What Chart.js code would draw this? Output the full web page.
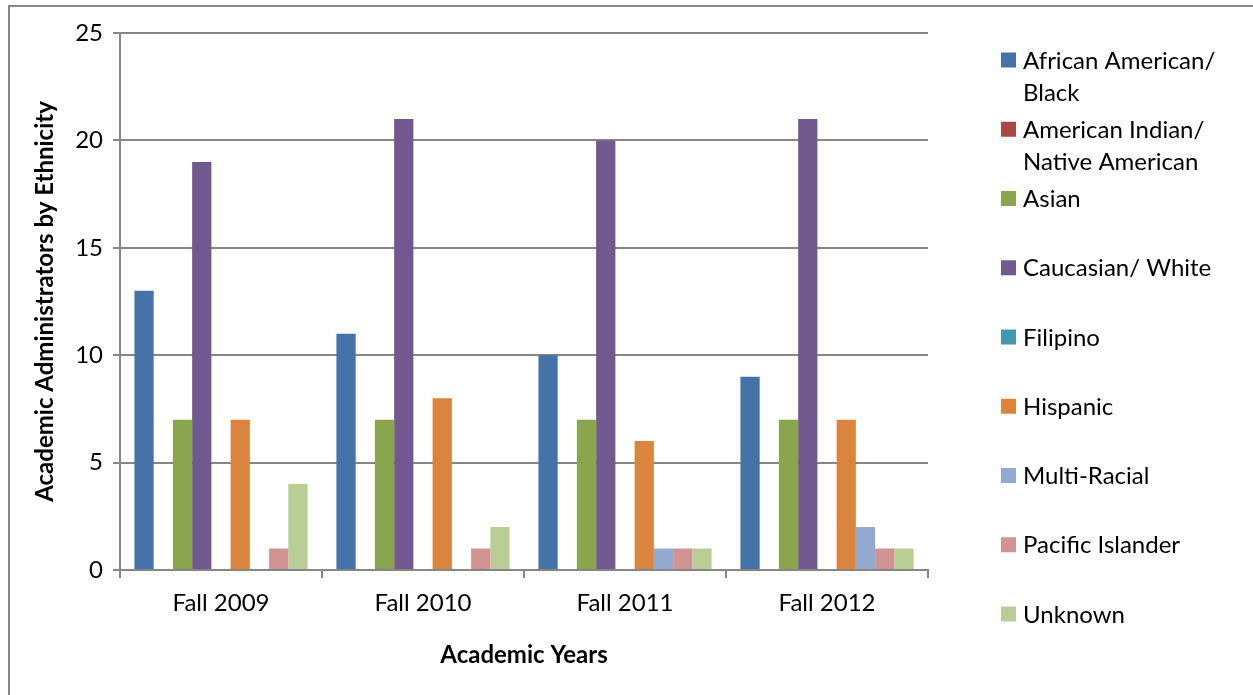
<!DOCTYPE html>
<html>
<head>
<meta charset="utf-8">
<script src="https://cdn.jsdelivr.net/npm/chart.js@4/dist/chart.umd.min.js"></script>
<style>
  html, body { margin: 0; padding: 0; background: #ffffff; }
  #wrap { position: relative; width: 1253px; height: 695px; }
</style>
</head>
<body>
<div id="wrap"><canvas id="c" width="1253" height="695"></canvas></div>
<script>
// Academic administrators by ethnicity, per fall term
const years = ['Fall 2009', 'Fall 2010', 'Fall 2011', 'Fall 2012'];
const groupNames = [
  'African American/ Black',
  'American Indian/ Native American',
  'Asian',
  'Caucasian/ White',
  'Filipino',
  'Hispanic',
  'Multi-Racial',
  'Pacific Islander',
  'Unknown'
];
const africanAmerican = [13, 11, 10, 9];
const americanIndian  = [0, 0, 0, 0];
const asian           = [7, 7, 7, 7];
const caucasian       = [19, 21, 20, 21];
const filipino        = [0, 0, 0, 0];
const hispanic        = [7, 8, 6, 7];
const multiRacial     = [0, 0, 1, 2];
const pacificIslander = [1, 1, 1, 1];
const unknown         = [4, 2, 1, 1];
const yTicks = [0, 5, 10, 15, 20, 25];

const seriesValues = [africanAmerican, americanIndian, asian, caucasian, filipino,
                      hispanic, multiRacial, pacificIslander, unknown];
const palette = ['#4572A7', '#AA4643', '#89A54E', '#71588F', '#4198AF',
                 '#DB843D', '#93A9CF', '#D19392', '#B9CD96'];

const FONT = 'Lato, "Open Sans", "Noto Sans", sans-serif';
const FONT_SIZE = 24;
const GRID = '#868686';

// Legend lines (wrapped the way the legend panel shows them)
const legendLines = [
  ['African American/', 'Black'],
  ['American Indian/', 'Native American'],
  ['Asian'],
  ['Caucasian/ White'],
  ['Filipino'],
  ['Hispanic'],
  ['Multi-Racial'],
  ['Pacific Islander'],
  ['Unknown']
];

const sideLegend = {
  id: 'sideLegend',
  afterDraw(chart) {
    const ctx = chart.ctx;
    ctx.save();
    ctx.font = FONT_SIZE + 'px ' + FONT;
    ctx.textBaseline = 'middle';
    ctx.textAlign = 'left';
    chart.data.datasets.forEach((ds, i) => {
      const cy = 60 + i * 69.25;
      ctx.fillStyle = ds.backgroundColor;
      ctx.fillRect(1001, cy - 7.5, 15, 15);
      ctx.fillStyle = '#000000';
      legendLines[i].forEach((line, j) => {
        ctx.fillText(line, 1023, cy + 1 + j * 32);
      });
    });
    ctx.restore();
  }
};

const frame = {
  id: 'frame',
  beforeDraw(chart) {
    const ctx = chart.ctx;
    ctx.save();
    ctx.fillStyle = '#ffffff';
    ctx.fillRect(0, 0, chart.width, chart.height);
    ctx.strokeStyle = '#868686';
    ctx.lineWidth = 2;
    ctx.strokeRect(9, 6, 1400, 900);
    ctx.restore();
  }
};

new Chart(document.getElementById('c'), {
  type: 'bar',
  data: {
    labels: years,
    datasets: groupNames.map((name, i) => ({
      label: name,
      data: seriesValues[i],
      backgroundColor: palette[i],
      borderWidth: 0,
      barPercentage: 1,
      categoryPercentage: 9 / 10.5
    }))
  },
  options: {
    responsive: false,
    animation: false,
    layout: { padding: { left: 0, top: 33, right: 325, bottom: 0 } },
    plugins: {
      legend: { display: false },
      tooltip: { enabled: false }
    },
    scales: {
      x: {
        offset: true,
        grid: {
          display: true,
          offset: true,
          drawOnChartArea: false,
          drawTicks: true,
          tickLength: 8,
          color: GRID,
          lineWidth: 2
        },
        border: { display: true, color: GRID, width: 2 },
        ticks: { color: '#000000', font: { family: FONT, size: FONT_SIZE }, padding: 11 },
        title: {
          display: true,
          text: 'Academic Years',
          color: '#000000',
          font: { family: FONT, size: FONT_SIZE, weight: 'bold' },
          padding: { top: 0, bottom: 25 }
        },
        afterFit(scale) { scale.height = 125; }
      },
      y: {
        min: 0,
        max: 25,
        afterBuildTicks(scale) { scale.ticks = yTicks.map(v => ({ value: v })); },
        grid: {
          color: GRID,
          lineWidth: 2,
          tickLength: 7,
          drawTicks: true
        },
        border: { display: true, color: GRID, width: 2 },
        ticks: { color: '#000000', font: { family: FONT, size: FONT_SIZE }, padding: 10 },
        title: {
          display: true,
          text: 'Academic Administrators by Ethnicity',
          color: '#000000',
          font: { family: FONT, size: FONT_SIZE, weight: 'bold' },
          padding: { top: 31, bottom: 0 }
        },
        afterFit(scale) { scale.width = 120; }
      }
    }
  },
  plugins: [frame, sideLegend]
});
</script>
</body>
</html>
